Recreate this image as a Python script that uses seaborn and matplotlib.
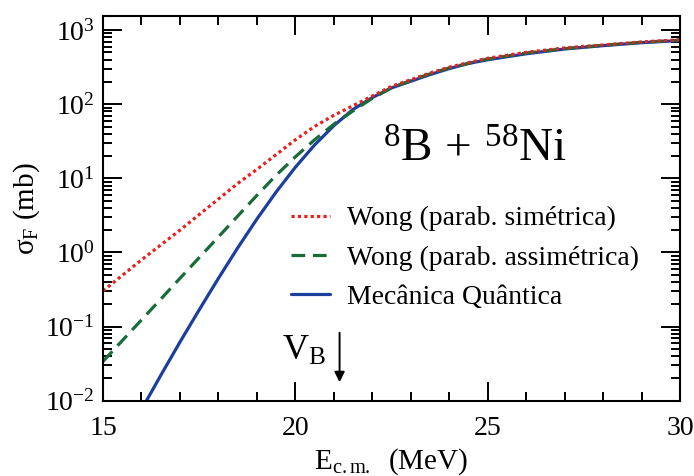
import numpy as np
import pandas as pd
import matplotlib
matplotlib.use("Agg")
import matplotlib.pyplot as plt
import seaborn as sns

# ---- data ----
energy_red = [15.0, 15.5, 16.0, 16.5, 17.0, 17.5, 18.0, 18.5, 19.0, 19.5, 20.0, 20.5, 21.0,
              21.5, 22.0, 22.5, 23.0, 23.5, 24.0, 24.5, 25.0, 26.0, 27.0, 28.0, 29.0, 30.0]
sigma_wong_sym = [0.302, 0.490, 0.794, 1.26, 2.00, 3.24, 5.25, 8.51, 13.2, 20.9, 33.1, 50.1, 70.8,
                  95.5, 129, 174, 214, 263, 316, 363, 417, 501, 575, 631, 692, 741]

energy_green = [15.0, 15.5, 16.0, 16.5, 17.0, 17.5, 18.0, 18.5, 19.0, 19.5, 20.0, 20.5, 21.0,
                21.5, 22.0, 22.5, 23.0, 23.5, 24.0, 24.5, 25.0, 26.0, 27.0, 28.0, 29.0, 30.0]
sigma_wong_asym = [0.0339, 0.0646, 0.123, 0.234, 0.447, 0.851, 1.62, 3.09, 5.89, 11.0, 19.5, 33.1, 53.7,
                   81.3, 120, 166, 209, 257, 309, 355, 407, 490, 562, 624, 684, 733]

energy_blue = [16.0, 16.5, 17.0, 17.5, 18.0, 18.5, 19.0, 19.5, 20.0, 20.5, 21.0,
               21.5, 22.0, 22.5, 23.0, 23.5, 24.0, 24.5, 25.0, 26.0, 27.0, 28.0, 29.0, 30.0]
sigma_qm = [0.00759, 0.0219, 0.0617, 0.168, 0.447, 1.15, 2.82, 6.53, 14.1, 28.2, 51.3,
            85.1, 123, 166, 204, 251, 302, 355, 398, 479, 556, 617, 676, 724]

labels = ["Wong (parab. simétrica)", "Wong (parab. assimétrica)", "Mecânica Quântica"]
x_ticks = [15, 20, 25, 30]
y_ticks = [1e-2, 1e-1, 1e0, 1e1, 1e2, 1e3]
y_tick_labels = [r"10$^{\mathrm{-2}}$", r"10$^{\mathrm{-1}}$", r"10$^{\mathrm{0}}$",
                 r"10$^{\mathrm{1}}$", r"10$^{\mathrm{2}}$", r"10$^{\mathrm{3}}$"]
vb_energy = 21.15

# ---- style ----
sns.set_theme(style="ticks")
plt.rcParams["font.family"] = ["Liberation Serif", "DejaVu Serif"]
plt.rcParams["mathtext.fontset"] = "custom"
plt.rcParams["mathtext.rm"] = "Liberation Serif"
plt.rcParams["mathtext.it"] = "Liberation Serif:italic"
plt.rcParams["mathtext.bf"] = "Liberation Serif:bold"
plt.rcParams["text.color"] = "black"
plt.rcParams["axes.labelcolor"] = "black"
plt.rcParams["xtick.color"] = "black"
plt.rcParams["ytick.color"] = "black"

fig = plt.figure(figsize=(6.94, 4.76), dpi=100)
ax = fig.add_axes([103 / 694, 1 - 400.7 / 476, (680 - 103) / 694, (400.7 - 16) / 476])

c_red = "#e8201e"
c_green = "#1a6b3a"
c_blue = "#1c3f9e"
lw = 2.3

df_blue = pd.DataFrame({"E": energy_blue, "sigma": sigma_qm})
df_green = pd.DataFrame({"E": energy_green, "sigma": sigma_wong_asym})
df_red = pd.DataFrame({"E": energy_red, "sigma": sigma_wong_sym})

sns.lineplot(data=df_blue, x="E", y="sigma", ax=ax, color=c_blue, lw=lw,
             linestyle="-", label=labels[2])
sns.lineplot(data=df_green, x="E", y="sigma", ax=ax, color=c_green, lw=lw,
             linestyle=(0, (4.3, 2.4)), label=labels[1])
sns.lineplot(data=df_red, x="E", y="sigma", ax=ax, color=c_red, lw=lw,
             linestyle=(0, (1, 1)), label=labels[0])

ax.set_yscale("log")
ax.set_xlim(15, 30)
ax.set_ylim(1e-2, 1550)

ax.set_xticks(x_ticks)
ax.set_xticklabels([str(t) for t in x_ticks])
ax.set_xticks(np.arange(15, 31, 1), minor=True)
ax.set_yticks(y_ticks)
ax.set_yticklabels(y_tick_labels)
minor_y = [m * 10.0 ** e for e in range(-2, 4) for m in range(2, 10)]
ax.set_yticks([v for v in minor_y if v <= 1550], minor=True)
ax.yaxis.set_minor_formatter(matplotlib.ticker.NullFormatter())

ax.tick_params(which="both", direction="in", top=True, right=True, width=1.4, colors="black")
ax.tick_params(which="major", length=13.5, labelsize=20)
ax.tick_params(which="minor", length=6.8)
ax.tick_params(axis="x", which="major", pad=11)
ax.tick_params(axis="y", which="major", pad=6)
for s in ax.spines.values():
    s.set_linewidth(1.5)
    s.set_color("black")

ax.set_xlabel(r"E$_{\mathrm{c.m.}}$  (MeV)", fontsize=21, labelpad=4)
ax.set_ylabel("σ$_{\\mathrm{F}}$ (mb)", fontsize=21, labelpad=2)

ax.text(0.485, 0.65, r"$^{8}$B$\,+\,^{58}$Ni", transform=ax.transAxes, fontsize=34,
        ha="left", va="center")

handles, labs = ax.get_legend_handles_labels()
order = [2, 1, 0]
ax.legend([handles[i] for i in order], [labs[i] for i in order], frameon=False,
          loc="upper left", bbox_to_anchor=(0.306, 0.535), fontsize=20,
          handlelength=1.4, handletextpad=0.62, labelspacing=0.5, borderaxespad=0)

ax.annotate("", xy=(vb_energy, 0.0163), xytext=(vb_energy, 0.09),
            arrowprops=dict(arrowstyle="-|>", color="black", lw=1.4, mutation_scale=15))
ax.text(20.8, 0.0355, r"V$_{\mathrm{B}}$", fontsize=26, ha="right", va="baseline")

fig.savefig("out.png", dpi=100)
